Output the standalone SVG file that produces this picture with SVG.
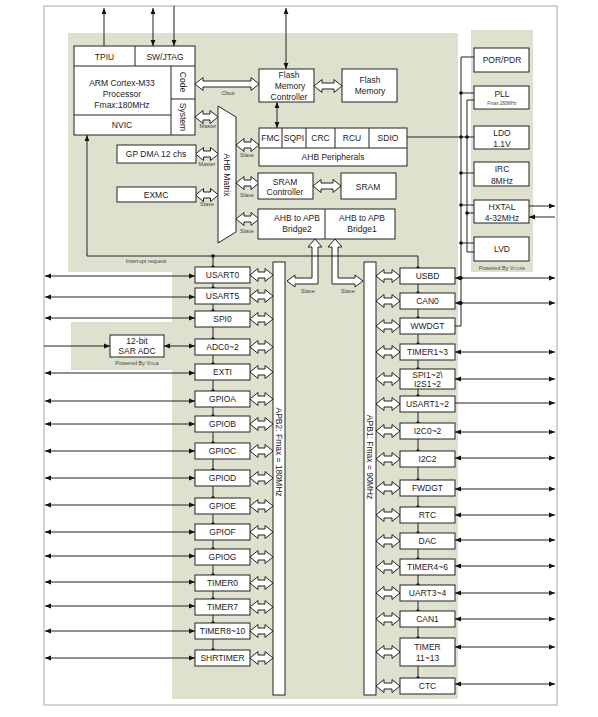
<svg xmlns="http://www.w3.org/2000/svg" xmlns:xlink="http://www.w3.org/1999/xlink" width="598" height="717" viewBox="0 0 598 717">
<style>
.g{fill:#dfe1cf}
.b{fill:#fff;stroke:#222;stroke-width:1}
.t{font-family:"Liberation Sans",Arial,sans-serif;font-size:8.5px;fill:#222;text-anchor:middle}
.s{font-family:"Liberation Sans",Arial,sans-serif;font-size:5.5px;fill:#444;text-anchor:middle}
.w{fill:none;stroke:#222;stroke-width:1}
.h{fill:#fff;stroke:#222;stroke-width:1}
.a2{marker-start:url(#ah);marker-end:url(#ah)}
.a1{marker-end:url(#ah)}
</style>
<defs>
<marker id="ah" viewBox="0 0 10 10" refX="10" refY="5" markerWidth="6" markerHeight="6" markerUnits="userSpaceOnUse" orient="auto-start-reverse"><path d="M0,1 L10,5 L0,9 z" fill="#111"/></marker>
<path id="d23" class="h" d="M0,0 l8,-6.5 v3.5 h7 v-3.5 l8,6.5 l-8,6.5 v-3.5 h-7 v3.5 z"/>
<path id="d24" class="h" d="M0,0 l8,-6.5 v3.5 h8 v-3.5 l8,6.5 l-8,6.5 v-3.5 h-8 v3.5 z"/>
<path id="d28" class="h" d="M0,0 l8,-6.5 v3.5 h12 v-3.5 l8,6.5 l-8,6.5 v-3.5 h-12 v3.5 z"/>
<path id="d64" class="h" d="M0,0 l8,-6.5 v3.5 h48 v-3.5 l8,6.5 l-8,6.5 v-3.5 h-48 v3.5 z"/>
<circle id="dot" r="1.8" fill="#111"/>
</defs>
<rect x="0" y="0" width="598" height="717" fill="#fff"/>
<rect x="44" y="6" width="513" height="699" fill="none" stroke="#c4c4c4" stroke-width="1.5"/>
<g id="backgrounds">
<path class="g" d="M68,33 H458 V699 H172 V272 H68 Z"/>
<rect class="g" x="471" y="30" width="62" height="242"/>
<rect class="g" x="71" y="322" width="101" height="48"/>
</g>

<g id="connectors">
<!-- top external lines -->
<line class="w a1" x1="104" y1="46" x2="104" y2="8"/>
<line class="w a2" x1="153" y1="8" x2="153" y2="46"/>
<line class="w a1" x1="174" y1="6" x2="174" y2="46"/>
<line class="w a2" x1="286" y1="8" x2="286" y2="69"/>
<line class="w a2" x1="277" y1="102" x2="277" y2="128"/>
<!-- hollow arrows top -->
<use xlink:href="#d64" x="195" y="84"/>
<use xlink:href="#d28" x="314" y="86"/>
<use xlink:href="#d28" x="313" y="186"/>
<use xlink:href="#d23" x="195" y="117"/>
<use xlink:href="#d23" x="195.5" y="154"/>
<use xlink:href="#d23" x="195.5" y="195"/>
<use xlink:href="#d23" x="236" y="145"/>
<use xlink:href="#d23" x="236" y="183"/>
<use xlink:href="#d23" x="236" y="219"/>
<!-- bridge bent arrows -->
<path class="h" d="M315,239 L322,247 L318,247 L318,284 L295,284 L295,287 L287,281 L295,275 L295,278 L312,278 L312,247 L308,247 Z"/>
<path class="h" d="M335,239 L342,247 L338,247 L338,278 L355,278 L355,275 L363,281 L355,287 L355,284 L332,284 L332,247 L328,247 Z"/>
<!-- interrupt request -->
<polyline class="w" points="418,678 418,256 87,256"/>
<line class="w a1" x1="87" y1="256" x2="87" y2="135"/>
<line class="w" x1="213" y1="256" x2="213" y2="650"/>
<use xlink:href="#dot" x="213" y="256"/>
<!-- power lines -->
<polyline class="w" points="474,57 461,57 461,326 455,326"/>
<polyline class="w" points="474,100 467,100 467,252 474,252"/>
<line class="w" x1="461" y1="93" x2="474" y2="93"/>
<line class="w" x1="407" y1="137" x2="474" y2="137"/>
<line class="w" x1="461" y1="173" x2="474" y2="173"/>
<line class="w" x1="461" y1="205" x2="474" y2="205"/>
<line class="w" x1="467" y1="213" x2="474" y2="213"/>
<line class="w" x1="461" y1="243" x2="474" y2="243"/>
<use xlink:href="#dot" x="461" y="93"/>
<use xlink:href="#dot" x="461" y="137"/>
<use xlink:href="#dot" x="467" y="137"/>
<use xlink:href="#dot" x="461" y="173"/>
<use xlink:href="#dot" x="461" y="205"/>
<use xlink:href="#dot" x="467" y="213"/>
<use xlink:href="#dot" x="461" y="243"/>
<use xlink:href="#dot" x="461" y="278"/>
<use xlink:href="#dot" x="461" y="303"/>
<line class="w a1" x1="529" y1="206" x2="555" y2="206"/>
<line class="w a1" x1="555" y1="217" x2="529" y2="217"/>
<!-- APB2 side -->
<line class="w a2" x1="45" y1="276" x2="195" y2="276"/>
<line class="w a2" x1="45" y1="297" x2="195" y2="297"/>
<line class="w a2" x1="45" y1="318" x2="195" y2="318"/>
<line class="w a1" x1="44" y1="346" x2="110" y2="346"/>
<line class="w a2" x1="164" y1="346" x2="195" y2="346"/>
<line class="w a2" x1="45" y1="373" x2="195" y2="373"/>
<line class="w a2" x1="45" y1="401" x2="195" y2="401"/>
<line class="w a2" x1="45" y1="424" x2="195" y2="424"/>
<line class="w a2" x1="45" y1="451" x2="195" y2="451"/>
<line class="w a2" x1="45" y1="478" x2="195" y2="478"/>
<line class="w a2" x1="45" y1="505" x2="195" y2="505"/>
<line class="w a2" x1="45" y1="532" x2="195" y2="532"/>
<line class="w a2" x1="45" y1="556" x2="195" y2="556"/>
<line class="w a2" x1="45" y1="582" x2="195" y2="582"/>
<line class="w a2" x1="45" y1="606" x2="195" y2="606"/>
<line class="w a2" x1="45" y1="631" x2="195" y2="631"/>
<line class="w a2" x1="45" y1="658" x2="195" y2="658"/>
<use xlink:href="#d23" x="250" y="275"/>
<use xlink:href="#d23" x="250" y="296"/>
<use xlink:href="#d23" x="250" y="319"/>
<use xlink:href="#d23" x="250" y="347"/>
<use xlink:href="#d23" x="250" y="372"/>
<use xlink:href="#d23" x="250" y="399"/>
<use xlink:href="#d23" x="250" y="424"/>
<use xlink:href="#d23" x="250" y="451"/>
<use xlink:href="#d23" x="250" y="478"/>
<use xlink:href="#d23" x="250" y="506"/>
<use xlink:href="#d23" x="250" y="532"/>
<use xlink:href="#d23" x="250" y="557"/>
<use xlink:href="#d23" x="250" y="583"/>
<use xlink:href="#d23" x="250" y="607"/>
<use xlink:href="#d23" x="250" y="631"/>
<use xlink:href="#d23" x="250" y="658"/>
<use xlink:href="#dot" x="213" y="267"/>
<use xlink:href="#dot" x="213" y="288"/>
<use xlink:href="#dot" x="213" y="311"/>
<use xlink:href="#dot" x="213" y="339"/>
<use xlink:href="#dot" x="213" y="364"/>
<use xlink:href="#dot" x="213" y="391"/>
<use xlink:href="#dot" x="213" y="416"/>
<use xlink:href="#dot" x="213" y="443"/>
<use xlink:href="#dot" x="213" y="470"/>
<use xlink:href="#dot" x="213" y="498"/>
<use xlink:href="#dot" x="213" y="524"/>
<use xlink:href="#dot" x="213" y="549"/>
<use xlink:href="#dot" x="213" y="575"/>
<use xlink:href="#dot" x="213" y="599"/>
<use xlink:href="#dot" x="213" y="623"/>
<use xlink:href="#dot" x="213" y="650"/>
<!-- APB1 side -->
<line class="w a2" x1="455" y1="278" x2="555" y2="278"/>
<line class="w a2" x1="455" y1="303" x2="555" y2="303"/>
<line class="w a2" x1="455" y1="352" x2="555" y2="352"/>
<line class="w a2" x1="455" y1="379" x2="555" y2="379"/>
<line class="w a1" x1="455" y1="403" x2="555" y2="403"/>
<line class="w a2" x1="455" y1="432" x2="555" y2="432"/>
<line class="w a2" x1="455" y1="458" x2="555" y2="458"/>
<line class="w a2" x1="455" y1="489" x2="555" y2="489"/>
<line class="w a2" x1="455" y1="515" x2="555" y2="515"/>
<line class="w a2" x1="455" y1="540" x2="555" y2="540"/>
<line class="w a2" x1="455" y1="566" x2="555" y2="566"/>
<line class="w a2" x1="455" y1="593" x2="555" y2="593"/>
<line class="w a2" x1="455" y1="619" x2="555" y2="619"/>
<line class="w a2" x1="455" y1="647" x2="555" y2="647"/>
<line class="w a2" x1="455" y1="684" x2="555" y2="684"/>
<use xlink:href="#d24" x="376" y="276"/>
<use xlink:href="#d24" x="376" y="301"/>
<use xlink:href="#d24" x="376" y="326"/>
<use xlink:href="#d24" x="376" y="352"/>
<use xlink:href="#d24" x="376" y="379"/>
<use xlink:href="#d24" x="376" y="404"/>
<use xlink:href="#d24" x="376" y="431"/>
<use xlink:href="#d24" x="376" y="459"/>
<use xlink:href="#d24" x="376" y="488"/>
<use xlink:href="#d24" x="376" y="515"/>
<use xlink:href="#d24" x="376" y="541"/>
<use xlink:href="#d24" x="376" y="567"/>
<use xlink:href="#d24" x="376" y="593"/>
<use xlink:href="#d24" x="376" y="619"/>
<use xlink:href="#d24" x="376" y="652"/>
<use xlink:href="#d24" x="376" y="686"/>
<use xlink:href="#dot" x="418" y="268"/>
<use xlink:href="#dot" x="418" y="293"/>
<use xlink:href="#dot" x="418" y="318"/>
<use xlink:href="#dot" x="418" y="344"/>
<use xlink:href="#dot" x="418" y="369"/>
<use xlink:href="#dot" x="418" y="396"/>
<use xlink:href="#dot" x="418" y="423"/>
<use xlink:href="#dot" x="418" y="451"/>
<use xlink:href="#dot" x="418" y="480"/>
<use xlink:href="#dot" x="418" y="507"/>
<use xlink:href="#dot" x="418" y="533"/>
<use xlink:href="#dot" x="418" y="559"/>
<use xlink:href="#dot" x="418" y="585"/>
<use xlink:href="#dot" x="418" y="611"/>
<use xlink:href="#dot" x="418" y="638"/>
<use xlink:href="#dot" x="418" y="678"/>
</g>

<g id="labels">
<text class="s" x="228" y="95">Cbus</text>
<text class="s" x="208" y="128">Master</text>
<text class="s" x="207" y="166">Master</text>
<text class="s" x="207" y="206">Slave</text>
<text class="s" x="247" y="157">Slave</text>
<text class="s" x="247" y="197">Slave</text>
<text class="s" x="247" y="233">Slave</text>
<text class="s" x="308" y="293">Slave</text>
<text class="s" x="348" y="293">Slave</text>
<text class="s" x="146" y="263">Interrupt request</text>
</g>

<g id="core">
<rect class="b" x="74" y="46" width="121" height="89"/>
<path class="w" d="M74,66 H195 M135,46 V66 M171,66 V135 M171,99 H195 M74,115 H171"/>
<text class="t" x="104.5" y="60">TPIU</text>
<text class="t" x="165" y="60">SW/JTAG</text>
<text class="t" x="122" y="86">ARM Cortex-M33</text>
<text class="t" x="122" y="97">Processor</text>
<text class="t" x="122" y="108">Fmax:180MHz</text>
<text class="t" x="122" y="128">NVIC</text>
<text class="t" transform="translate(180,82) rotate(90)">Code</text>
<text class="t" transform="translate(180,117) rotate(90)">System</text>
</g>
<g id="flash-ctrl"><rect class="b" x="259" y="69" width="55" height="33"/>
<text class="t" x="289" y="78">Flash</text><text class="t" x="290" y="89">Memory</text><text class="t" x="289" y="100">Controller</text></g>
<g id="flash-mem"><rect class="b" x="342" y="69" width="55" height="33"/>
<text class="t" x="370" y="83">Flash</text><text class="t" x="370" y="94">Memory</text></g>
<g id="ahb-matrix"><path class="b" d="M218,106 L236,117 L236,232 L218,243 Z"/>
<text class="t" transform="translate(224,175) rotate(90)">AHB Matrix</text></g>
<g id="gpdma"><rect class="b" x="117" y="145" width="79" height="18"/><text class="t" x="156" y="157">GP DMA 12 chs</text></g>
<g id="exmc"><rect class="b" x="117" y="187" width="79" height="15"/><text class="t" x="156" y="198">EXMC</text></g>
<g id="ahb-periph"><rect class="b" x="259" y="128" width="148" height="38"/>
<path class="w" d="M259,148 H407 M282,128 V148 M306,128 V148 M335,128 V148 M369,128 V148"/>
<text class="t" x="270.5" y="141">FMC</text><text class="t" x="294" y="141">SQPI</text><text class="t" x="320.5" y="141">CRC</text><text class="t" x="352" y="141">RCU</text><text class="t" x="388" y="141">SDIO</text>
<text class="t" x="333" y="160">AHB Peripherals</text></g>
<g id="sram-ctrl"><rect class="b" x="258" y="173" width="55" height="26"/><text class="t" x="285" y="185">SRAM</text><text class="t" x="285" y="195">Controller</text></g>
<g id="sram"><rect class="b" x="341" y="173" width="55" height="26"/><text class="t" x="368" y="190">SRAM</text></g>
<g id="bridges"><rect class="b" x="258" y="209" width="137" height="30"/><path class="w" d="M325,209 V239"/>
<text class="t" x="297" y="221">AHB to APB</text><text class="t" x="297" y="232">Bridge2</text>
<text class="t" x="362" y="221">AHB to APB</text><text class="t" x="362" y="232">Bridge1</text></g>

<g id="power">
<g id="por"><rect class="b" x="474" y="48" width="55" height="24"/><text class="t" x="502" y="63">POR/PDR</text></g>
<g id="pll"><rect class="b" x="474" y="86" width="55" height="23"/><text class="t" x="502" y="97">PLL</text><text class="s" style="font-size:4.5px" x="502" y="105">Fmax:180MHz</text></g>
<g id="ldo"><rect class="b" x="474" y="126" width="55" height="23"/><text class="t" x="502" y="136">LDO</text><text class="t" x="502" y="147">1.1V</text></g>
<g id="irc"><rect class="b" x="474" y="162" width="55" height="24"/><text class="t" x="502" y="172">IRC</text><text class="t" x="502" y="184">8MHz</text></g>
<g id="hxtal"><rect class="b" x="474" y="200" width="55" height="23"/><text class="t" x="502" y="210">HXTAL</text><text class="t" x="502" y="221">4-32MHz</text></g>
<g id="lvd"><rect class="b" x="474" y="237" width="55" height="24"/><text class="t" x="502" y="252">LVD</text></g>
<text class="s" x="502" y="270">Powered By V<tspan style="font-size:4px">CORE</tspan></text>
</g>

<g id="sar-adc"><rect class="b" x="110" y="335" width="54" height="22"/><text class="t" x="137" y="344">12-bit</text><text class="t" x="137" y="354">SAR ADC</text>
<text class="s" x="137" y="365">Powered By V<tspan style="font-size:4px">DDA</tspan></text></g>

<g id="apb2-bus"><rect class="b" x="273" y="262" width="12" height="433"/><text class="t" transform="translate(276,452) rotate(90)">APB2: Fmax = 180MHz</text></g>
<g id="apb1-bus"><rect class="b" x="364" y="262" width="12" height="433"/><text class="t" transform="translate(367,457) rotate(90)">APB1: Fmax = 90MHz</text></g>

<g id="apb2-periph">
<g id="usart0"><rect class="b" x="195" y="267" width="55" height="16"/><text class="t" x="222.5" y="278">USART0</text></g>
<g id="usart5"><rect class="b" x="195" y="288" width="55" height="16"/><text class="t" x="222.5" y="299">USART5</text></g>
<g id="spi0"><rect class="b" x="195" y="311" width="55" height="16"/><text class="t" x="222.5" y="322">SPI0</text></g>
<g id="adc"><rect class="b" x="195" y="339" width="55" height="16"/><text class="t" x="222.5" y="350">ADC0~2</text></g>
<g id="exti"><rect class="b" x="195" y="364" width="55" height="16"/><text class="t" x="222.5" y="375">EXTI</text></g>
<g id="gpioa"><rect class="b" x="195" y="391" width="55" height="16"/><text class="t" x="222.5" y="402">GPIOA</text></g>
<g id="gpiob"><rect class="b" x="195" y="416" width="55" height="16"/><text class="t" x="222.5" y="427">GPIOB</text></g>
<g id="gpioc"><rect class="b" x="195" y="443" width="55" height="16"/><text class="t" x="222.5" y="454">GPIOC</text></g>
<g id="gpiod"><rect class="b" x="195" y="470" width="55" height="16"/><text class="t" x="222.5" y="481">GPIOD</text></g>
<g id="gpioe"><rect class="b" x="195" y="498" width="55" height="16"/><text class="t" x="222.5" y="509">GPIOE</text></g>
<g id="gpiof"><rect class="b" x="195" y="524" width="55" height="16"/><text class="t" x="222.5" y="535">GPIOF</text></g>
<g id="gpiog"><rect class="b" x="195" y="549" width="55" height="16"/><text class="t" x="222.5" y="560">GPIOG</text></g>
<g id="timer0"><rect class="b" x="195" y="575" width="55" height="16"/><text class="t" x="222.5" y="586">TIMER0</text></g>
<g id="timer7"><rect class="b" x="195" y="599" width="55" height="16"/><text class="t" x="222.5" y="610">TIMER7</text></g>
<g id="timer8"><rect class="b" x="195" y="623" width="55" height="16"/><text class="t" x="222.5" y="634">TIMER8~10</text></g>
<g id="shrtimer"><rect class="b" x="195" y="650" width="55" height="16"/><text class="t" x="222.5" y="661">SHRTIMER</text></g>
</g>

<g id="apb1-periph">
<g id="usbd"><rect class="b" x="400" y="268" width="55" height="16"/><text class="t" x="427.5" y="279">USBD</text></g>
<g id="can0"><rect class="b" x="400" y="293" width="55" height="16"/><text class="t" x="427.5" y="304">CAN0</text></g>
<g id="wwdgt"><rect class="b" x="400" y="318" width="55" height="16"/><text class="t" x="427.5" y="329">WWDGT</text></g>
<g id="timer1"><rect class="b" x="400" y="344" width="55" height="16"/><text class="t" x="427.5" y="355">TIMER1~3</text></g>
<g id="spi1"><rect class="b" x="400" y="369" width="55" height="20"/><text class="t" x="427.5" y="378">SPI1~2\</text><text class="t" x="427.5" y="387">I2S1~2</text></g>
<g id="usart1"><rect class="b" x="400" y="396" width="55" height="16"/><text class="t" x="427.5" y="407">USART1~2</text></g>
<g id="i2c0"><rect class="b" x="400" y="423" width="55" height="16"/><text class="t" x="427.5" y="434">I2C0~2</text></g>
<g id="i2c2"><rect class="b" x="400" y="451" width="55" height="16"/><text class="t" x="427.5" y="462">I2C2</text></g>
<g id="fwdgt"><rect class="b" x="400" y="480" width="55" height="16"/><text class="t" x="427.5" y="491">FWDGT</text></g>
<g id="rtc"><rect class="b" x="400" y="507" width="55" height="16"/><text class="t" x="427.5" y="518">RTC</text></g>
<g id="dac"><rect class="b" x="400" y="533" width="55" height="16"/><text class="t" x="427.5" y="544">DAC</text></g>
<g id="timer4"><rect class="b" x="400" y="559" width="55" height="16"/><text class="t" x="427.5" y="570">TIMER4~6</text></g>
<g id="uart3"><rect class="b" x="400" y="585" width="55" height="16"/><text class="t" x="427.5" y="596">UART3~4</text></g>
<g id="can1"><rect class="b" x="400" y="611" width="55" height="16"/><text class="t" x="427.5" y="622">CAN1</text></g>
<g id="timer11"><rect class="b" x="400" y="638" width="55" height="28"/><text class="t" x="427.5" y="650">TIMER</text><text class="t" x="427.5" y="661">11~13</text></g>
<g id="ctc"><rect class="b" x="400" y="678" width="55" height="16"/><text class="t" x="427.5" y="689">CTC</text></g>
</g>
</svg>
